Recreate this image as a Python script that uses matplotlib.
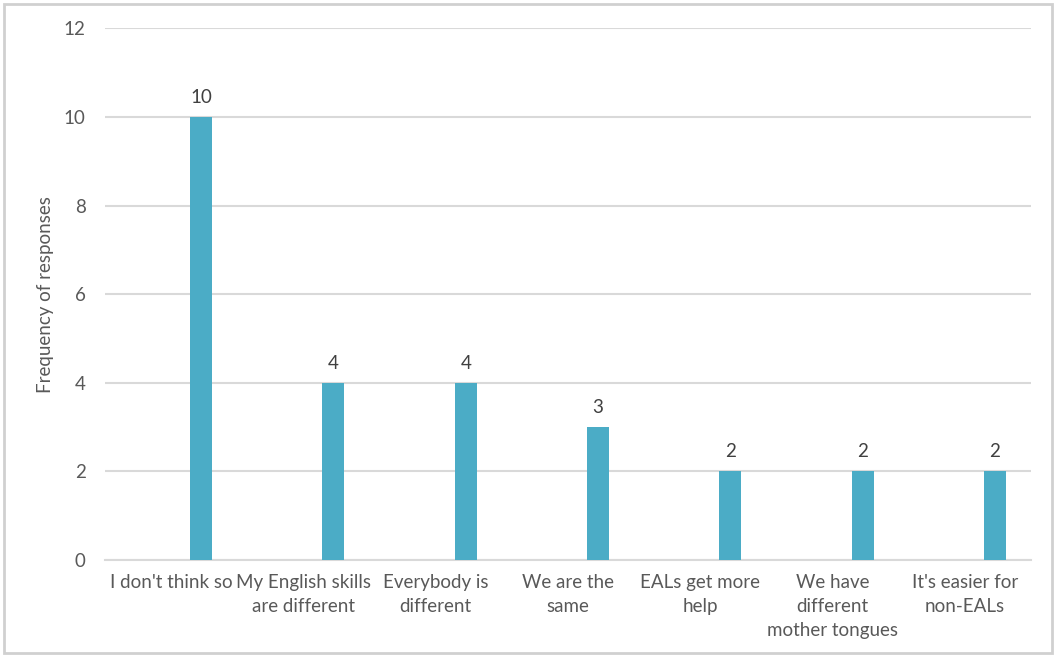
import matplotlib.pyplot as plt
import numpy as np
from matplotlib.patches import Rectangle

# survey responses
categories = ["I don't think so", "My English skills\nare different", "Everybody is\ndifferent",
              "We are the\nsame", "EALs get more\nhelp", "We have\ndifferent\nmother tongues",
              "It's easier for\nnon-EALs"]
counts = [10, 4, 4, 3, 2, 2, 2]
yticks = [0, 2, 4, 6, 8, 10, 12]

plt.rcParams['font.family'] = ['Lato', 'DejaVu Sans']
txt = "#595959"

fig = plt.figure(figsize=(10.56, 6.57), dpi=100)
ax = fig.add_axes([0.0994, 0.1476, 0.8769, 0.8093])

x = np.arange(len(categories))
ax.bar(x + 0.227, counts, width=0.166, color="#4BACC6", zorder=3)
for xi, c in zip(x, counts):
    ax.text(xi + 0.227, c + 0.25, str(c), ha="center", va="bottom", fontsize=13.5, color="#404040")

ax.set_xlim(-0.5, len(categories) - 0.5)
ax.set_ylim(0, 12)
ax.set_yticks(yticks)
ax.set_xticks(x)
ax.set_xticklabels(categories, fontsize=13.5, color=txt, linespacing=1.5)
ax.tick_params(axis="y", length=0, pad=14, labelsize=13.5, labelcolor=txt)
ax.tick_params(axis="x", length=0, pad=10)
ax.grid(axis="y", color="#d9d9d9", linewidth=1.5, zorder=0)
for s in ["top", "right", "left"]:
    ax.spines[s].set_visible(False)
ax.spines["bottom"].set_color("#d9d9d9")
ax.spines["bottom"].set_linewidth(1.5)
ax.set_ylabel("Frequency of responses", fontsize=13.5, color=txt, labelpad=7)

# frame around the chart
fig.patches.append(Rectangle((0.004, 0.006), 0.992, 0.988, transform=fig.transFigure,
                             fill=False, edgecolor="#d0d0d0", linewidth=2))

fig.savefig("out.png", dpi=100)
